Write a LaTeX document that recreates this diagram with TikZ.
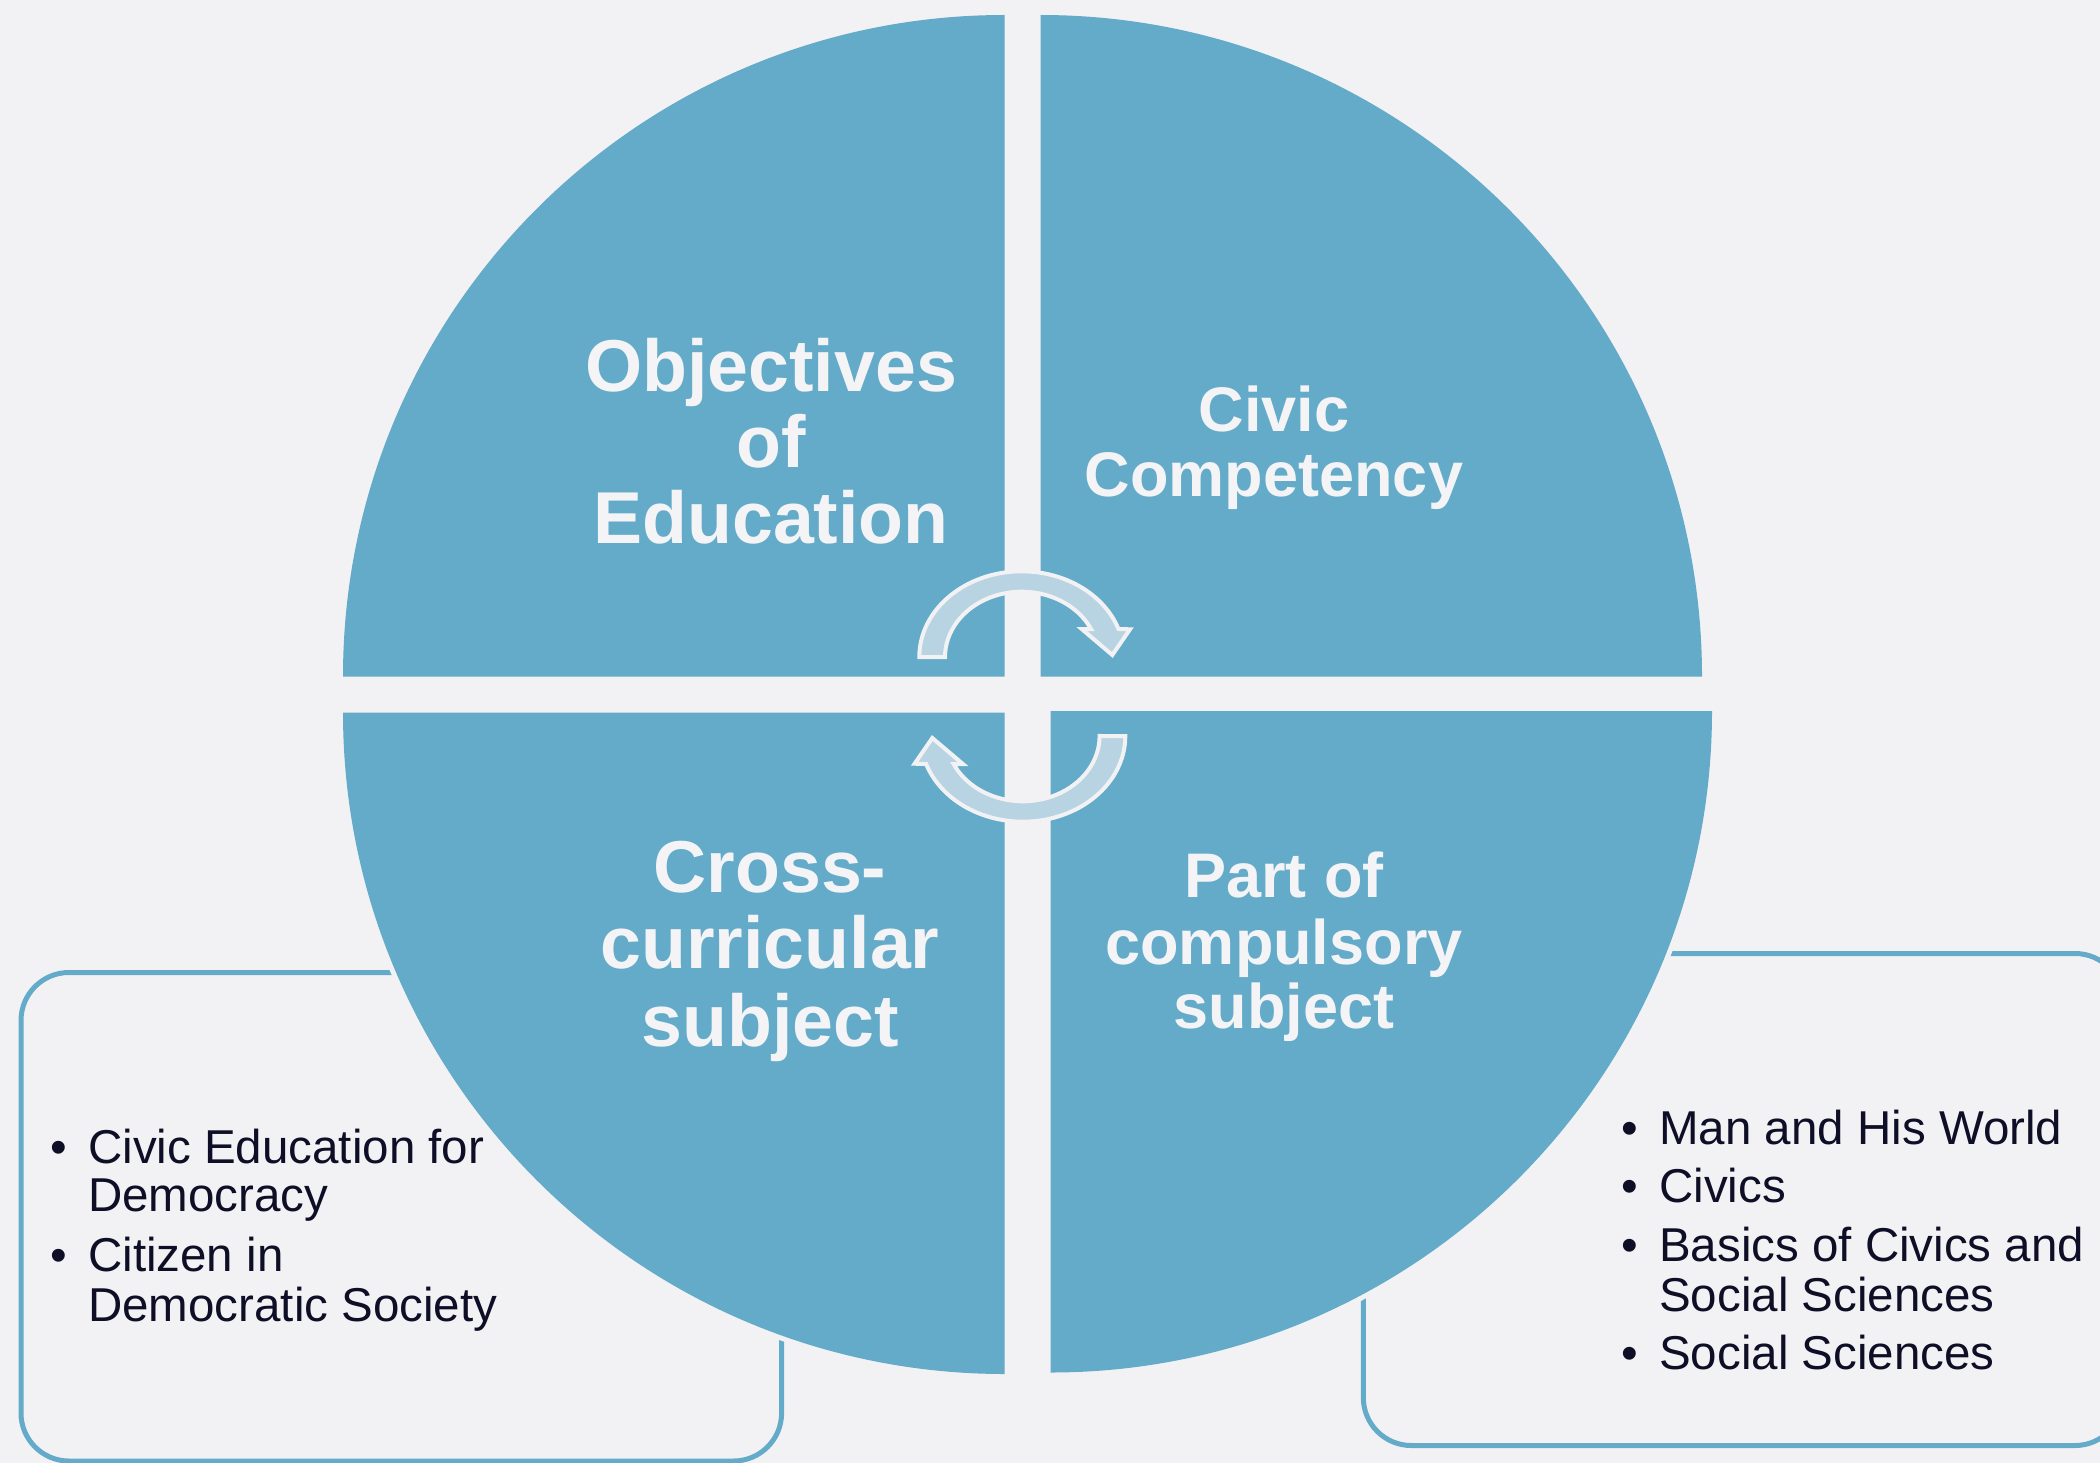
\documentclass[tikz,border=0pt]{standalone}
\usepackage{fontspec}
\setmainfont{Liberation Sans}
\definecolor{bgc}{HTML}{F2F2F4}
\definecolor{qblue}{HTML}{63ABC9}
\definecolor{arrfill}{HTML}{B8D4E2}
\definecolor{txtw}{HTML}{F4F4F6}
\definecolor{txtd}{HTML}{0E0E26}
\begin{document}
\begin{tikzpicture}[x=1pt,y=-1pt,
  quad/.style={preaction={draw=bgc,line width=10pt},fill=qblue},
  listbox/.style={draw=qblue,line width=5pt,rounded corners=48pt},
  cyclearrow/.style={fill=arrfill,draw=bgc,line width=4pt,line join=miter},
  titlebig/.style={text=txtw,font=\bfseries\fontsize{73.5}{76}\selectfont,anchor=base,inner sep=0pt},
  titlesmall/.style={text=txtw,font=\bfseries\fontsize{63}{61}\selectfont,anchor=base,inner sep=0pt},
  itemline/.style={text=txtd,font=\fontsize{47.5}{49}\selectfont,anchor=base west,inner sep=0pt},
  bulletmark/.style={text=txtd,font=\fontsize{47.5}{49}\selectfont,anchor=base,inner sep=0pt}
]
\useasboundingbox (0,0) rectangle (2100,1463);
\fill[bgc] (0,0) rectangle (2100,1463);

% list boxes (behind the circle)
\draw[listbox] (21,972.5) rectangle (781.6,1461);
\draw[listbox] (1363.3,953.5) rectangle (2123,1445.5);

% quadrants
\path[quad] (1004.5,676.5) -- (343,676.5) arc[start angle=180,end angle=270,radius=661.5] -- cycle;
\path[quad] (1040.5,676.5) -- (1040.5,15) arc[start angle=270,end angle=360,radius=661.5] -- cycle;
\path[quad] (1004.5,712.5) -- (1004.5,1374) arc[start angle=90,end angle=180,radius=661.5] -- cycle;
\path[quad] (1050.5,711) -- (1712,711) arc[start angle=0,end angle=90,radius=661.5] -- cycle;

% circular arrows
\path[cyclearrow] (919.3,657) arc[start angle=180,end angle=340.93,x radius=102.4,y radius=85.7]
  -- (1130,629.3) -- (1112.3,655) -- (1081.7,629) -- (1091,629)
  arc[start angle=334.6,end angle=180,x radius=76.7,y radius=65.3] -- cycle;
\begin{scope}[rotate around={180:(1022.3,696.5)}]
\path[cyclearrow] (919.3,657) arc[start angle=180,end angle=340.93,x radius=102.4,y radius=85.7]
  -- (1130,629.3) -- (1112.3,655) -- (1081.7,629) -- (1091,629)
  arc[start angle=334.6,end angle=180,x radius=76.7,y radius=65.3] -- cycle;
\end{scope}

% quadrant titles
\node[titlebig] (obj1) at (771,391) {Objectives};
\node[titlebig] (obj2) at (771,467) {of};
\node[titlebig] (obj3) at (771,543) {Education};

\node[titlesmall] (civ1) at (1274,431) {Civic};
\node[titlesmall] (civ2) at (1274,496) {Competency};

\node[titlebig] (cro1) at (770,892) {Cross-};
\node[titlebig] (cro2) at (770,968) {curricular};
\node[titlebig] (cro3) at (770,1046) {subject};

\node[titlesmall] (par1) at (1284,897) {Part of};
\node[titlesmall] (par2) at (1284,964) {compulsory};
\node[titlesmall] (par3) at (1284,1028) {subject};

% left list
\node[bulletmark] (lb1) at (59,1163.3) {•};
\node[itemline] (l1a) at (88,1163.3) {Civic Education for};
\node[itemline] (l1b) at (88,1211.7) {Democracy};
\node[bulletmark] (lb2) at (59,1271.7) {•};
\node[itemline] (l2a) at (88,1271.7) {Citizen in};
\node[itemline] (l2b) at (88,1321.7) {Democratic Society};

% right list
\node[bulletmark] (rb1) at (1630,1144) {•};
\node[itemline] (r1) at (1659,1144) {Man and His World};
\node[bulletmark] (rb2) at (1630,1202) {•};
\node[itemline] (r2) at (1659,1202) {Civics};
\node[bulletmark] (rb3) at (1630,1261) {•};
\node[itemline] (r3a) at (1659,1261) {Basics of Civics and};
\node[itemline] (r3b) at (1659,1311) {Social Sciences};
\node[bulletmark] (rb4) at (1630,1369) {•};
\node[itemline] (r4) at (1659,1369) {Social Sciences};
\end{tikzpicture}
\end{document}
